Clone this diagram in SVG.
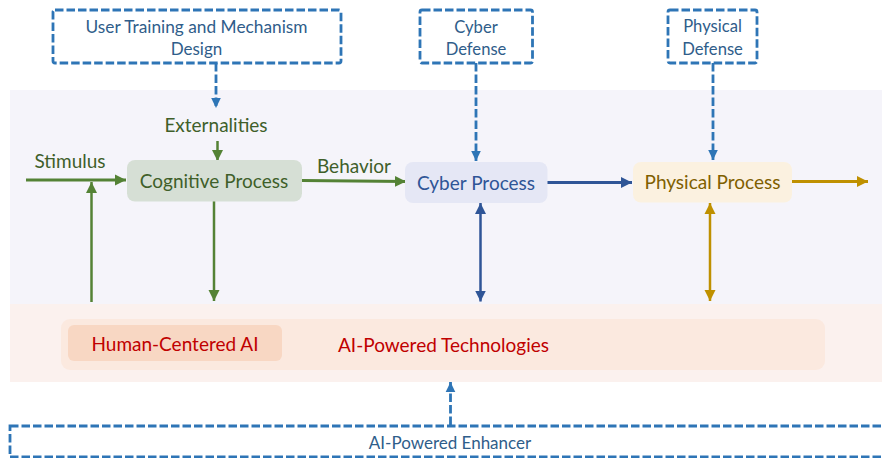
<svg xmlns="http://www.w3.org/2000/svg" width="882" height="458" viewBox="0 0 882 458">
<defs>
<style>
text{font-family:"Lato","Liberation Sans",sans-serif;text-anchor:middle}
.dash{fill:#fff;stroke:#2e75b6;stroke-width:2.8;stroke-dasharray:8.5 3}
.dl{fill:none;stroke:#2e75b6;stroke-width:2.8;stroke-dasharray:8.5 3}
.blue{font-size:16.6px;fill:#2f5d8a}
.lab{font-size:19px;fill:#3f5f2a}
.node{font-size:19px}
.g{fill:none;stroke:#548235}
.b{fill:none;stroke:#2f5597}
.y{fill:none;stroke:#bf9000}
</style>
<marker id="mg" markerUnits="userSpaceOnUse" markerWidth="12" markerHeight="12" refX="11" refY="6" orient="auto-start-reverse"><path d="M0,0.500L11,6L0,11.500Z" fill="#548235"/></marker>
<marker id="mb" markerUnits="userSpaceOnUse" markerWidth="12" markerHeight="12" refX="11" refY="6" orient="auto-start-reverse"><path d="M0,0.500L11,6L0,11.500Z" fill="#2f5597"/></marker>
<marker id="my" markerUnits="userSpaceOnUse" markerWidth="12" markerHeight="12" refX="11" refY="6" orient="auto-start-reverse"><path d="M0,0.500L11,6L0,11.500Z" fill="#bf9000"/></marker>
<marker id="md" markerUnits="userSpaceOnUse" markerWidth="12" markerHeight="12" refX="10" refY="6" orient="auto"><path d="M0,1.200L10,6L0,10.800Z" fill="#2e75b6"/></marker>
</defs>
<rect id="upper-band" x="10" y="90" width="872" height="214" fill="#f5f4fa"/>
<rect id="lower-band" x="10" y="304" width="872" height="78" fill="#fbf1ee"/>
<g id="ai-technologies"><rect x="61" y="319" width="764" height="51" rx="9" fill="#fbe9df"/><text class="node" x="443.500" y="352" fill="#c00000">AI-Powered Technologies</text></g>
<g id="human-centered-ai"><rect x="68" y="325" width="214" height="36" rx="6" fill="#f8d7c3"/><text class="node" x="175" y="351" fill="#c00000">Human-Centered AI</text></g>
<g id="connectors">
<path class="dl" d="M216 63V108" marker-end="url(#md)"/>
<path class="dl" d="M476 63V161" marker-end="url(#md)"/>
<path class="dl" d="M713 63V160" marker-end="url(#md)"/>
<path class="dl" d="M450.500 425V382" marker-end="url(#md)"/>
<path class="g" stroke-width="3" d="M26 180H126" marker-end="url(#mg)"/>
<path class="g" stroke-width="2.500" d="M217.500 141V161" marker-end="url(#mg)"/>
<path class="g" stroke-width="3" d="M302 180.500L406 181.500" marker-end="url(#mg)"/>
<path class="g" stroke-width="2.500" d="M91.500 302V182" marker-end="url(#mg)"/>
<path class="g" stroke-width="2.500" d="M214 201V301" marker-end="url(#mg)"/>
<path class="b" stroke-width="3.200" d="M547 182.500H632" marker-end="url(#mb)"/>
<path class="b" stroke-width="2.500" d="M480.500 203V301.500" marker-start="url(#mb)" marker-end="url(#mb)"/>
<path class="y" stroke-width="3" d="M792 181.500H868" marker-end="url(#my)"/>
<path class="y" stroke-width="2.500" d="M710 203V301" marker-start="url(#my)" marker-end="url(#my)"/>
</g>
<g id="user-training"><rect class="dash" x="53" y="10" width="288" height="53" rx="2"/><text class="blue" style="font-size:17.3px" x="196.500" y="33">User Training and Mechanism</text><text class="blue" style="font-size:17px" x="196.500" y="55">Design</text></g>
<g id="cyber-defense"><rect class="dash" x="420" y="10" width="112.500" height="53" rx="2"/><text class="blue" x="476" y="33">Cyber</text><text class="blue" x="476" y="55">Defense</text></g>
<g id="physical-defense"><rect class="dash" x="668" y="10" width="89" height="53" rx="2"/><text class="blue" x="712.500" y="32">Physical</text><text class="blue" x="712.500" y="55">Defense</text></g>
<g id="enhancer"><rect class="dash" x="10" y="426" width="880" height="31"/><text class="blue" style="font-size:17px" x="450" y="449">AI-Powered Enhancer</text></g>
<g id="externalities"><text class="lab" x="216" y="132">Externalities</text></g>
<g id="stimulus"><text class="lab" x="70" y="168">Stimulus</text></g>
<g id="behavior"><text class="lab" x="354" y="173">Behavior</text></g>
<g id="cognitive-process"><rect x="127" y="160" width="175" height="41.500" rx="8" fill="#d6dfd5"/><text class="node" x="214" y="188" fill="#3f5f2a">Cognitive Process</text></g>
<g id="cyber-process"><rect x="405" y="162" width="142.500" height="41" rx="8" fill="#e5e7f5"/><text class="node" x="476" y="190" fill="#2f5597">Cyber Process</text></g>
<g id="physical-process"><rect x="633" y="162" width="159" height="40.500" rx="8" fill="#fbf1e0"/><text class="node" x="712.500" y="189" fill="#7f6000">Physical Process</text></g>
</svg>
